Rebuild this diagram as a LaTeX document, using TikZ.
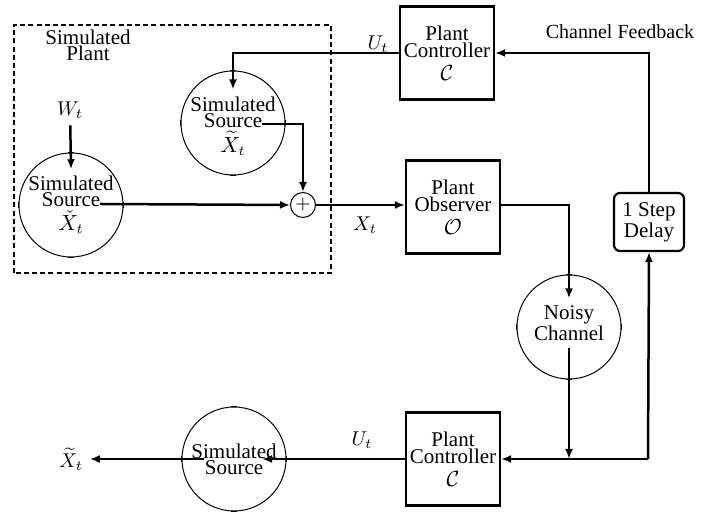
\documentclass[tikz,border=0pt]{standalone}
\usepackage{fontspec}
\setmainfont{Liberation Serif}
\usetikzlibrary{positioning,arrows.meta}
\tikzset{
  txt/.style={align=center, font=\fontsize{10.5}{8}\selectfont},
  blk/.style={draw, line width=1.1pt, minimum width=47pt, minimum height=46.5pt, align=center, inner sep=1pt, font=\fontsize{10.5}{8.5}\selectfont},
  ring/.style={draw, circle, line width=0.5pt, minimum size=52pt},
  tick/.style={line width=0.9pt},
  arr/.style={line width=1.25pt, -{Latex[length=5pt,width=4pt]}},
}
\begin{document}
\begin{tikzpicture}[x=0.5pt,y=0.5pt]
\useasboundingbox (0,0) rectangle (726,512);
\draw[line width=1pt, dash pattern=on 2.5pt off 1.6pt] (14,239) rectangle (331,487);
\node[txt] (simplant) at (88,467) {Simulated\\Plant};
\node (wt) at (70,402) {$W_t$};
\node[ring] (ssA) at (71,307) {};
\node[txt] (ssAt) at (71,307) {Simulated\\Source\\[1pt]$\check{X}_t$};
\node[ring] (ssB) at (233,389) {};
\node[txt] (ssBt) at (233,386) {Simulated\\Source\\[1pt]$\widetilde{X}_t$};
\node[circle, draw, line width=0.5pt, minimum size=12.5pt, inner sep=0pt] (sum) at (303,307) {$+$};
\node[blk] (ctlTop) at (447,459) {Plant\\Controller\\[3pt]$\mathcal{C}$};
\node[blk] (obs) at (453,305) {Plant\\Observer\\[3pt]$\mathcal{O}$};
\node[draw, line width=1.1pt, rounded corners=3pt, minimum width=35pt, minimum height=29pt, inner sep=1pt, txt] (delay) at (649,290) {1 Step\\Delay};
\node[ring] (noisy) at (569,185) {};
\node[txt] (noisyt) at (569,189) {Noisy\\Channel};
\node[blk] (ctlBot) at (453,53) {Plant\\Controller\\[3pt]$\mathcal{C}$};
\node[ring] (ssC) at (234,53) {};
\node[txt] (ssCt) at (234,53) {Simulated\\Source};
\node (xout) at (71,53) {$\widetilde{X}_t$};
\node (fbtxt) at (620,480) {Channel Feedback};
\node (utop) at (378,468) {$U_t$};
\node (xt) at (365,287) {$X_t$};
\node (ubot) at (362,72) {$U_t$};
\foreach \r in {ssA,ssB,ssC,noisy}{
  \draw[tick] ([xshift=-1.7pt]\r.north) -- ([xshift=1.7pt]\r.north);
  \draw[tick] ([xshift=-1.7pt]\r.south) -- ([xshift=1.7pt]\r.south);
  \draw[tick] ([yshift=-1.7pt]\r.west) -- ([yshift=1.7pt]\r.west);
  \draw[tick] ([yshift=-1.7pt]\r.east) -- ([yshift=1.7pt]\r.east);
}
\coordinate (ssAo) at (100,308);
\coordinate (ssBo) at (262,388);
\coordinate (ssCi) at (262,53);
\coordinate (ssCo) at (204,53);
\coordinate (fb) at (648,53);
\draw[arr] (wt) -- (ssAt.north);
\draw[arr] (ssAo) -- (sum.west);
\draw[arr] (ssBo) -| (sum.north);
\draw[arr] (sum.east) -- (obs.west |- sum.east);
\draw[arr] (obs.east |- sum.east) -| (noisyt.north);
\draw[arr] (noisyt.south) -- (noisyt.south |- ctlBot.east);
\draw[arr] (fb) -- (ctlBot.east);
\draw[arr] (fb) -- (delay.south);
\draw[arr] (delay.north) |- (ctlTop.east);
\draw[arr] (ctlTop.west) -| (ssBt.north);
\draw[arr] (ctlBot.west) -- (ssCi);
\draw[arr] (ssCo) -- (xout.east);
\end{tikzpicture}
\end{document}
